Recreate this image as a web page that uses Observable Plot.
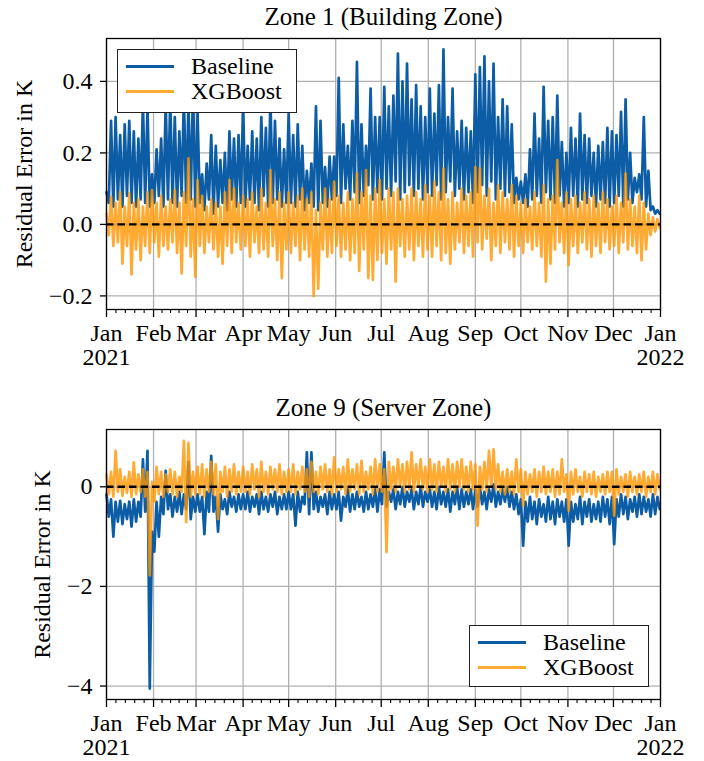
<!DOCTYPE html>
<html>
<head>
<meta charset="utf-8">
<script src="https://cdn.jsdelivr.net/npm/d3@7"></script>
<script src="https://cdn.jsdelivr.net/npm/@observablehq/plot@0.6"></script>
<style>
  body { margin: 0; background: #fff; }
  #fig { position: relative; width: 704px; height: 761px; background: #fff; font-family: "Liberation Serif", "DejaVu Serif", serif; }
  #fig svg, #fig svg text { font-family: "Liberation Serif", "DejaVu Serif", serif !important; }
  .legend { position: absolute; background: #fff; border: 1.3px solid #222; box-sizing: border-box; }
  .legend .sw { position: absolute; height: 3px; }
  .legend .lb { position: absolute; font-size: 24px; line-height: 24px; color: #000; white-space: nowrap; font-family: "Liberation Serif", "DejaVu Serif", serif; }
</style>
</head>
<body>
<div id="fig">
  <div id="p1" style="position:absolute;left:0;top:0"></div>
  <div id="p2" style="position:absolute;left:0;top:388px"></div>
</div>
<script>
// ---------- text ----------
const titles = ["Zone 1 (Building Zone)", "Zone 9 (Server Zone)"];
const yLabel = "Residual Error in K";
const seriesNames = ["Baseline", "XGBoost"];
const monthLabels = ["Jan","Feb","Mar","Apr","May","Jun","Jul","Aug","Sep","Oct","Nov","Dec","Jan"];
const yearLabels = ["2021", "2022"];
const z1Ticks = [-0.2, 0, 0.2, 0.4];
const z9Ticks = [-4, -2, 0];

// ---------- data: residuals sampled every 3 days (hi) and halfway between (lo) ----------
const z1BaseHi = [0.09,0.29,0.30,0.25,0.28,0.29,0.26,0.24,0.34,0.33,
  0.14,0.21,0.24,0.34,0.35,0.30,0.26,0.36,0.34,0.38,
  0.31,0.14,0.17,0.25,0.22,0.18,0.20,0.26,0.24,0.25,
  0.34,0.22,0.26,0.24,0.30,0.27,0.35,0.29,0.24,0.21,
  0.31,0.25,0.28,0.22,0.15,0.17,0.33,0.29,0.16,0.19,
  0.19,0.41,0.28,0.22,0.29,0.455,0.28,0.22,0.38,0.30,
  0.30,0.385,0.33,0.36,0.478,0.40,0.45,0.35,0.39,0.33,0.30,
  0.38,0.31,0.39,0.49,0.30,0.38,0.26,0.29,0.27,0.26,
  0.42,0.44,0.47,0.40,0.45,0.30,0.35,0.33,0.28,0.13,
  0.12,0.14,0.21,0.31,0.24,0.385,0.29,0.30,0.36,0.23,
  0.20,0.27,0.24,0.31,0.25,0.24,0.20,0.22,0.23,0.27,
  0.26,0.25,0.315,0.35,0.20,0.13,0.14,0.30,0.15,0.05,0.04];
const z1BaseLo = [0.06,0.05,0.07,0.05,0.08,0.06,0.05,0.07,0.06,0.05,
  0.06,0.08,0.05,0.07,0.06,0.05,0.08,0.06,0.07,0.05,
  0.06,0.04,0.07,0.03,0.05,0.06,0.04,0.07,0.05,0.06,
  0.05,0.07,0.06,0.04,0.08,0.05,0.06,0.07,0.05,0.06,
  0.06,0.05,0.07,0.04,0.06,0.05,0.04,0.06,0.05,0.07,
  0.08,0.06,0.10,0.07,0.09,0.06,0.08,0.11,0.07,0.09,
  0.07,0.10,0.08,0.12,0.07,0.09,0.11,0.08,0.10,0.07,0.09,
  0.08,0.11,0.07,0.09,0.12,0.08,0.10,0.07,0.09,0.06,
  0.09,0.11,0.08,0.12,0.07,0.10,0.08,0.09,0.06,0.07,
  0.06,0.05,0.07,0.08,0.06,0.09,0.07,0.06,0.08,0.05,
  0.06,0.08,0.05,0.07,0.06,0.08,0.05,0.07,0.06,0.05,
  0.06,0.08,0.05,0.07,0.06,0.09,0.07,0.05,0.04,0.03,0.03];
const z1XgbHi = [0.03,0.077,0.06,0.09,0.05,0.087,0.06,0.07,0.05,0.09,
  0.096,0.06,0.08,0.05,0.07,0.096,0.06,0.09,0.185,0.07,
  0.124,0.08,0.05,0.07,0.06,0.05,0.09,0.124,0.10,0.06,
  0.08,0.07,0.09,0.05,0.10,0.06,0.152,0.07,0.09,0.06,
  0.09,0.06,0.08,0.10,0.07,0.09,0.04,0.06,0.10,0.07,
  0.12,0.08,0.06,0.09,0.07,0.143,0.09,0.152,0.08,0.10,
  0.124,0.07,0.10,0.09,0.10,0.07,0.08,0.10,0.09,0.07,0.11,
  0.08,0.12,0.09,0.157,0.07,0.09,0.06,0.10,0.08,0.09,
  0.16,0.157,0.08,0.10,0.06,0.11,0.09,0.07,0.11,0.08,
  0.06,0.07,0.05,0.09,0.06,0.11,0.07,0.08,0.18,0.06,
  0.09,0.07,0.08,0.06,0.09,0.07,0.08,0.06,0.09,0.07,
  0.05,0.08,0.06,0.143,0.07,0.05,0.08,0.06,0.03,0.02,0.015];
const z1XgbLo = [-0.03,-0.06,-0.05,-0.11,-0.06,-0.14,-0.07,-0.10,-0.06,-0.08,
  -0.05,-0.09,-0.06,-0.07,-0.05,-0.08,-0.137,-0.06,-0.09,-0.146,
  -0.06,-0.08,-0.05,-0.07,-0.09,-0.11,-0.06,-0.08,-0.05,-0.07,
  -0.06,-0.09,-0.05,-0.08,-0.07,-0.09,-0.06,-0.10,-0.15,-0.07,
  -0.08,-0.06,-0.10,-0.07,-0.09,-0.20,-0.18,-0.07,-0.09,-0.08,
  -0.06,-0.09,-0.07,-0.10,-0.08,-0.13,-0.07,-0.15,-0.155,-0.10,
  -0.08,-0.11,-0.07,-0.16,-0.06,-0.09,-0.07,-0.10,-0.06,-0.09,-0.07,
  -0.09,-0.06,-0.10,-0.08,-0.11,-0.07,-0.05,-0.08,-0.06,-0.09,
  -0.05,-0.07,-0.04,-0.10,-0.06,-0.08,-0.05,-0.07,-0.09,-0.06,
  -0.08,-0.05,-0.07,-0.06,-0.09,-0.16,-0.11,-0.07,-0.05,-0.08,
  -0.114,-0.06,-0.08,-0.05,-0.07,-0.09,-0.06,-0.08,-0.05,-0.07,
  -0.06,-0.08,-0.05,-0.07,-0.06,-0.08,-0.10,-0.07,-0.03,-0.02,-0.01];

const z9BaseHi = [-0.15,-0.25,-0.30,-0.28,-0.35,-0.30,-0.25,-0.30,0.55,0.72,
  -0.9,-0.3,-0.2,0.32,-0.15,-0.2,-0.1,-0.15,0.5,-0.2,
  -0.15,-0.2,-0.1,0.62,-0.2,-0.15,-0.25,-0.1,-0.2,-0.15,
  -0.15,-0.1,-0.2,-0.15,-0.1,-0.2,-0.15,-0.1,-0.2,-0.15,
  -0.1,-0.15,-0.1,-0.2,0.69,0.69,-0.1,-0.2,-0.15,-0.1,
  -0.15,-0.1,-0.2,-0.05,-0.15,-0.1,-0.2,-0.1,-0.15,-0.05,
  -0.05,0.69,-0.1,-0.05,-0.1,0.0,-0.1,-0.05,-0.1,0.0,-0.1,
  -0.05,-0.1,0.0,-0.1,-0.05,-0.1,0.0,-0.05,-0.1,-0.05,
  -0.05,0.0,-0.1,-0.05,0.05,-0.1,-0.05,0.0,-0.1,-0.15,
  -0.25,-0.3,-0.2,-0.3,-0.25,-0.35,-0.2,-0.3,-0.25,-0.3,
  -0.25,-0.3,-0.35,-0.2,-0.3,-0.25,-0.35,-0.3,-0.2,-0.25,
  -0.2,-0.25,-0.15,-0.2,-0.25,-0.2,-0.15,-0.2,-0.25,-0.15,-0.2];
const z9BaseLo = [-0.6,-1.0,-0.7,-0.75,-0.65,-0.8,-0.7,-0.6,-0.5,-4.05,
  -1.3,-1.0,-0.55,-0.45,-0.6,-0.5,-0.55,-0.45,-0.65,-0.5,
  -0.5,-0.95,-0.5,-0.5,-0.9,-0.45,-0.55,-0.4,-0.5,-0.45,
  -0.45,-0.5,-0.4,-0.55,-0.45,-0.5,-0.4,-0.55,-0.45,-0.45,
  -0.45,-0.78,-0.5,-0.35,-0.55,-0.45,-0.5,-0.4,-0.55,-0.45,
  -0.45,-0.68,-0.4,-0.5,-0.45,-0.4,-0.5,-0.45,-0.4,-0.5,
  -0.35,-0.4,-0.3,-0.45,-0.35,-0.4,-0.3,-0.45,-0.35,-0.4,-0.3,
  -0.4,-0.45,-0.35,-0.4,-0.5,-0.35,-0.45,-0.4,-0.35,-0.45,
  -0.4,-0.35,-0.45,-0.3,-0.4,-0.35,-0.3,-0.4,-0.45,-0.55,
  -1.18,-0.7,-0.65,-0.75,-0.6,-0.7,-0.65,-0.75,-0.6,-0.7,
  -1.18,-0.7,-0.65,-0.75,-0.6,-0.7,-0.65,-0.7,-0.6,-0.75,
  -1.15,-0.6,-0.55,-0.65,-0.5,-0.6,-0.55,-0.5,-0.6,-0.55,-0.45];
const z9XgbHi = [0.25,0.3,0.72,0.35,0.2,0.3,0.49,0.25,0.35,0.3,
  0.1,0.4,0.3,0.25,0.35,0.3,0.2,0.92,0.88,0.3,
  0.4,0.45,0.35,0.5,0.45,0.3,0.4,0.35,0.45,0.3,
  0.4,0.3,0.45,0.35,0.5,0.3,0.4,0.35,0.45,0.3,
  0.35,0.45,0.3,0.4,0.35,0.5,0.3,0.4,0.45,0.35,
  0.59,0.35,0.4,0.55,0.35,0.45,0.52,0.3,0.4,0.55,
  0.45,0.35,0.5,0.4,0.55,0.45,0.5,0.69,0.45,0.55,0.4,
  0.55,0.45,0.5,0.4,0.55,0.45,0.5,0.55,0.4,0.5,
  0.45,0.4,0.5,0.72,0.75,0.45,0.3,0.35,0.3,0.55,
  0.35,0.3,0.25,0.35,0.3,0.4,0.3,0.35,0.3,0.55,
  0.25,0.3,0.35,0.2,0.3,0.25,0.3,0.2,0.25,0.3,
  0.3,0.35,0.2,0.25,0.3,0.2,0.25,0.3,0.2,0.3,0.25];
const z9XgbLo = [-0.15,-0.2,-0.1,-0.18,-0.12,-0.2,-0.15,-0.1,-0.2,-1.78,
  -0.3,-0.15,-0.2,-0.1,-0.15,-0.2,-0.1,-0.71,-0.2,-0.15,
  -0.15,-0.2,-0.1,-0.15,-0.65,-0.1,-0.2,-0.1,-0.15,-0.1,
  -0.1,-0.15,-0.05,-0.2,-0.1,-0.15,-0.05,-0.1,-0.15,-0.1,
  -0.1,-0.15,-0.05,-0.1,-0.2,-0.1,-0.15,-0.05,-0.1,-0.15,
  -0.1,-0.05,-0.15,-0.1,-0.05,-0.15,-0.1,-0.05,-0.15,-0.1,
  -0.1,-1.31,-0.05,-0.1,0.0,-0.1,-0.05,-0.1,0.0,-0.05,-0.1,
  -0.05,-0.1,0.0,-0.1,-0.05,-0.1,0.0,-0.05,-0.1,-0.05,
  -0.78,-0.05,-0.1,0.0,-0.05,-0.1,-0.15,-0.1,-0.15,-0.1,
  -0.38,-0.15,-0.1,-0.2,-0.1,-0.15,-0.1,-0.2,-0.15,-0.1,
  -0.48,-0.15,-0.1,-0.2,-0.1,-0.15,-0.2,-0.1,-0.15,-0.1,
  -0.58,-0.15,-0.1,-0.2,-0.1,-0.15,-0.1,-0.2,-0.1,-0.15,-0.05];

// ---------- build ----------
const BLUE = "#0C5DA5", ORANGE = "#FF9500";
const FONT = "'Liberation Serif', 'DejaVu Serif', serif";
const T0 = Date.UTC(2021, 0, 1), DAY = 864e5, STEP = 3;
function series(hi, lo) {
  const out = [];
  hi.forEach((h, i) => {
    out.push({date: new Date(T0 + i * STEP * DAY), value: h});
    out.push({date: new Date(T0 + (i * STEP + STEP / 2) * DAY), value: lo[i]});
  });
  return out;
}
const start = new Date(T0), end = new Date(Date.UTC(2022, 0, 1));
const monthTicks = d3.utcMonth.range(start, new Date(Date.UTC(2022, 0, 2)));
const minorTicks = [];
for (let k = 0; k < monthTicks.length - 1; k++) {
  const a = +monthTicks[k], b = +monthTicks[k + 1];
  for (let j = 1; j < 5; j++) minorTicks.push(new Date(a + (b - a) * j / 5));
}
const fmtMonth = (d) => {
  const idx = monthTicks.findIndex(t => +t === +d);
  const m = monthLabels[idx];
  if (idx === 0) return m + "\n" + yearLabels[0];
  if (idx === monthTicks.length - 1) return m + "\n" + yearLabels[1];
  return m;
};

function panel({base, xgb, yDomain, yTicks, yFmt, title, height, marginTop, marginBottom, labelDx}) {
  return Plot.plot({
    width: 704, height, marginTop, marginBottom, marginLeft: 106, marginRight: 44,
    style: {fontFamily: FONT, fontSize: "24px", color: "#000", background: "#fff", overflow: "visible"},
    x: {type: "utc", domain: [start, end]},
    y: {domain: yDomain},
    marks: [
      Plot.gridX({ticks: monthTicks, stroke: "#b0b0b0", strokeOpacity: 1, strokeWidth: 1.3}),
      Plot.gridY({ticks: yTicks, stroke: "#b0b0b0", strokeOpacity: 1, strokeWidth: 1.3}),
      Plot.line(base, {x: "date", y: "value", stroke: BLUE, strokeWidth: 2.7}),
      Plot.line(xgb, {x: "date", y: "value", stroke: ORANGE, strokeOpacity: 0.8, strokeWidth: 2.7}),
      Plot.ruleY([0], {stroke: "#000", strokeWidth: 2.4, strokeDasharray: "7.5,4"}),
      Plot.axisX({ticks: minorTicks, tickSize: 4, tickFormat: () => "", label: null, strokeWidth: 1.1}),
      Plot.axisX({ticks: monthTicks, tickSize: 8, tickPadding: 6, tickFormat: fmtMonth, label: null, lineHeight: 1.0, strokeWidth: 1.3}),
      Plot.axisY({ticks: yTicks, tickSize: 6, tickPadding: 8, tickFormat: yFmt, label: null, strokeWidth: 1.3}),
      Plot.frame({stroke: "#000", strokeWidth: 1.3}),
      Plot.text([title], {frameAnchor: "top", dy: -22, fontSize: 25, textAnchor: "middle", lineAnchor: "middle"}),
      Plot.text([yLabel], {frameAnchor: "left", rotate: -90, dx: labelDx, fontSize: 24, textAnchor: "middle", lineAnchor: "middle"})
    ]
  });
}

document.getElementById("p1").append(panel({
  base: series(z1BaseHi, z1BaseLo), xgb: series(z1XgbHi, z1XgbLo),
  yDomain: [-0.238, 0.52], yTicks: z1Ticks, yFmt: d3.format(".1f"),
  title: titles[0], height: 380, marginTop: 38, marginBottom: 71, labelDx: -82
}));
document.getElementById("p2").append(panel({
  base: series(z9BaseHi, z9BaseLo), xgb: series(z9XgbHi, z9XgbLo),
  yDomain: [-4.27, 1.15], yTicks: z9Ticks, yFmt: d3.format("d"),
  title: titles[1], height: 373, marginTop: 41, marginBottom: 62, labelDx: -64
}));

function legend(left, top, h) {
  const fig = document.getElementById("fig");
  const box = document.createElement("div");
  box.className = "legend";
  Object.assign(box.style, {left: left + "px", top: top + "px", width: "180px", height: h + "px"});
  [[BLUE, 1], [ORANGE, 0.8]].forEach(([c, op], i) => {
    const y = 16 + i * 25;
    const sw = document.createElement("div");
    sw.className = "sw";
    Object.assign(sw.style, {left: "8px", width: "48px", top: (y - 1.5) + "px", background: c, opacity: op});
    const lb = document.createElement("div");
    lb.className = "lb";
    lb.textContent = seriesNames[i];
    Object.assign(lb.style, {left: "73px", top: (y - 12) + "px"});
    box.append(sw, lb);
  });
  fig.append(box);
}
legend(117, 49, 64);
legend(469, 625, 62);
</script>
</body>
</html>
